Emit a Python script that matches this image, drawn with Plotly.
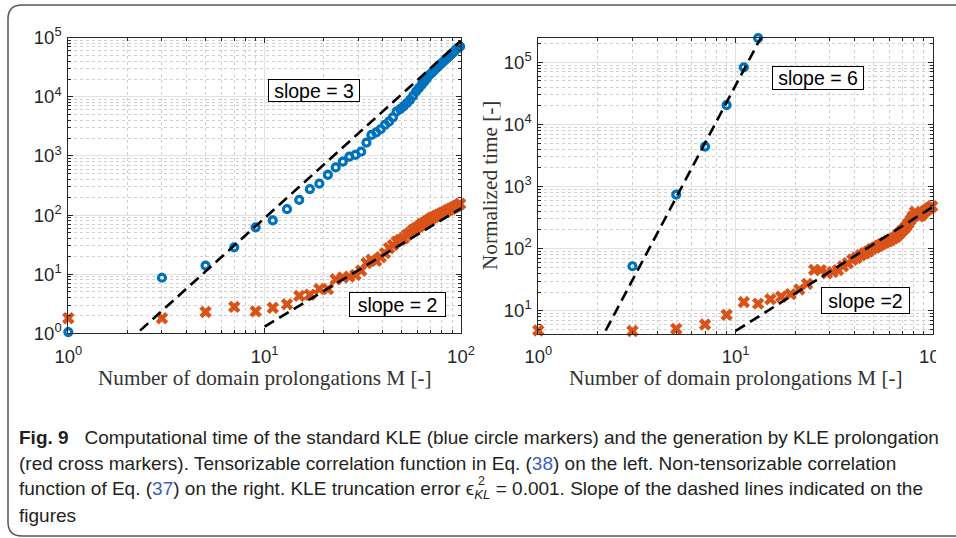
import plotly.graph_objects as go

W, H = 956, 538

# ---------------- data ----------------
# Left: tensorizable correlation function, odd numbers of prolongations M
m_left = list(range(1, 100, 2))
time_kle_left = [
    1.05, 8.7, 14, 28.5, 62, 81, 126, 180, 275, 340,
    480, 640, 800, 975, 1040, 1180, 1680, 2270, 2500, 2830,
    3350, 3800, 4500, 5650, 6200, 6900, 7800, 8900, 10400, 12300,
    14000, 15900, 18000, 20500, 23500, 25500, 28000, 30500, 33500, 36000,
    39000, 42000, 45000, 48500, 52000, 56000, 60000, 64000, 67500, 71000,
]
time_prol_left = [
    1.8, 1.8, 2.3, 2.8, 2.35, 2.7, 3.1, 4.3, 4.5, 5.6,
    5.6, 8.2, 8.8, 9.1, 9.7, 11.5, 15.4, 17.5, 16.8, 19.4,
    22.7, 27.5, 31, 35.5, 38, 40.5, 46, 50, 56, 60,
    64, 70, 74, 79, 84, 89, 93, 97, 101, 105,
    110, 114, 119, 124, 128, 133, 137, 142, 148, 155,
]

# Right: non-tensorizable correlation function
m_right_kle = [1, 3, 5, 7, 9, 11, 13]
time_kle_right = [4.2, 52, 740, 4400, 20500, 83000, 245000]
m_right_prol = list(range(1, 100, 2))
time_prol_right = [
    4.8, 4.7, 5.1, 6.0, 8.6, 13.8, 13.0, 15.3, 16.8, 18.5,
    22, 27, 45.5, 45, 40, 42, 45, 52, 58, 66,
    71, 78, 84, 90, 99, 104, 111, 118, 125, 131,
    138, 146, 155, 170, 188, 205, 225, 255, 290, 330,
    390, 350, 330, 340, 370, 400, 420, 440, 460, 480,
]

# Dashed guide lines: slope, coefficient c (y = c * M**slope), M from, M to
guide_left = [(3, 0.089, 2, 100), (2, 0.013, 10, 100)]
guide_right = [(6, 0.0427, 2, 13.5), (2, 0.0472, 10, 100)]

slope_labels_left = ["slope = 3", "slope = 2"]
slope_labels_right = ["slope = 6", "slope =2"]

x_tick_vals = [1, 10, 100]
x_tick_text = ["10<sup>0</sup>", "10<sup>1</sup>", "10<sup>2</sup>"]
y_tick_vals_left = [1, 10, 100, 1e3, 1e4, 1e5]
y_tick_text_left = ["10<sup>0</sup>", "10<sup>1</sup>", "10<sup>2</sup>",
                    "10<sup>3</sup>", "10<sup>4</sup>", "10<sup>5</sup>"]
y_tick_vals_right = [10, 100, 1e3, 1e4, 1e5]
y_tick_text_right = y_tick_text_left[1:]

x_title = "Number of domain prolongations M [-]"
y_title_right = "Normalized time [-]"

LINK = "#3a5fc4"
caption_lines = [
    "<b>Fig. 9</b>\u00a0\u00a0 Computational time of the standard KLE (blue circle markers) "
    "and the generation by KLE prolongation",
    "(red cross markers). Tensorizable correlation function in Eq. "
    f"(<span style='color:{LINK}'>38</span>) on the left. Non-tensorizable correlation",
    f"function of Eq. (<span style='color:{LINK}'>37</span>) on the right. "
    "KLE truncation error ϵ<sub><i>KL</i></sub> = 0.001. Slope of the dashed lines indicated on the",
    "figures",
]
eps_power = "2"

# ---------------- styling helpers ----------------
BLUE = "#0072BD"
RED = "#D95319"
AX = "#262626"
SANS = "Liberation Sans, Arial, Helvetica, sans-serif"
SERIF = "Liberation Serif, Times New Roman, serif"


def fx(p):
    return p / W


def fy(p):
    return 1 - p / H


minor_vals = [d * 10 ** e for e in range(0, 6) for d in range(2, 10)]


def log_axis(domain, rng, tickvals, ticktext, standoff):
    return dict(
        type="log", domain=domain, range=rng,
        tickmode="array", tickvals=tickvals, ticktext=ticktext,
        showline=True, linecolor=AX, linewidth=1, mirror="ticks",
        ticks="inside", ticklen=5, tickwidth=1, tickcolor=AX,
        ticklabelstandoff=standoff,
        showgrid=True, gridcolor="#e1e1e1", gridwidth=1, zeroline=False,
        tickfont=dict(family=SANS, size=18.5, color=AX),
        minor=dict(tickmode="array", tickvals=minor_vals, ticks="inside",
                   ticklen=3, tickwidth=1, tickcolor=AX,
                   showgrid=True, gridcolor="#cfcfcf", griddash="dot", gridwidth=1),
    )


fig = go.Figure()


def add_panel(xa, ya, m_kle, t_kle, m_prol, t_prol, guides):
    fig.add_trace(go.Scatter(
        x=m_prol, y=t_prol, mode="markers", xaxis=xa, yaxis=ya, cliponaxis=False,
        marker=dict(symbol="x", size=11, color=RED, line=dict(width=0)),
        showlegend=False))
    fig.add_trace(go.Scatter(
        x=m_kle, y=t_kle, mode="markers", xaxis=xa, yaxis=ya, cliponaxis=False,
        marker=dict(symbol="circle-open", size=7, color=BLUE, line=dict(width=3.2, color=BLUE)),
        showlegend=False))
    for slope, c, m0, m1 in guides:
        fig.add_trace(go.Scatter(
            x=[m0, m1], y=[c * m0 ** slope, c * m1 ** slope], mode="lines",
            xaxis=xa, yaxis=ya,
            line=dict(color="black", width=2.6, dash="11px,6px"),
            showlegend=False))


add_panel("x", "y", m_left, time_kle_left, m_left, time_prol_left, guide_left)
add_panel("x2", "y2", m_right_kle, time_kle_right, m_right_prol, time_prol_right, guide_right)

fig.update_layout(
    width=W, height=H, autosize=False,
    margin=dict(l=0, r=0, t=0, b=0),
    paper_bgcolor="white", plot_bgcolor="white",
    template="none",
    xaxis=log_axis([fx(68.3), fx(461)], [0, 2], x_tick_vals, x_tick_text, 6),
    yaxis=log_axis([fy(333.3), fy(37.7)], [0, 5], y_tick_vals_left, y_tick_text_left, 2),
    xaxis2=log_axis([fx(538.3), fx(933)], [0, 2], x_tick_vals, x_tick_text, 6),
    yaxis2=log_axis([fy(334), fy(37.7)], [0.625, 5.396], y_tick_vals_right, y_tick_text_right, 2),
)
fig.layout.yaxis.anchor = "x"
fig.layout.xaxis.anchor = "y"
fig.layout.yaxis2.anchor = "x2"
fig.layout.xaxis2.anchor = "y2"

annotations = []


def slope_box(text, cx, cy, w, h):
    annotations.append(dict(
        text=text, xref="paper", yref="paper", x=fx(cx), y=fy(cy),
        xanchor="center", yanchor="middle", showarrow=False,
        width=w, height=h, borderpad=0, bgcolor="white",
        bordercolor="black", borderwidth=1,
        font=dict(family=SANS, size=19.5, color="black")))


slope_box(slope_labels_left[0], 313.8, 90.8, 90, 21)
slope_box(slope_labels_left[1], 397.7, 304.3, 95, 23)
slope_box(slope_labels_right[0], 817.5, 77.7, 90, 22)
slope_box(slope_labels_right[1], 865.8, 300.5, 87, 25)

for cx in (264.6, 735.6):
    annotations.append(dict(
        text=x_title, xref="paper", yref="paper", x=fx(cx), y=fy(378),
        xanchor="center", yanchor="middle", showarrow=False,
        font=dict(family=SERIF, size=21.2, color="#333333")))
annotations.append(dict(
    text=y_title_right, xref="paper", yref="paper", x=fx(490), y=fy(186),
    xanchor="center", yanchor="middle", showarrow=False, textangle=-90,
    font=dict(family=SERIF, size=21.2, color="#333333")))

for i, line in enumerate(caption_lines):
    annotations.append(dict(
        text=line, xref="paper", yref="paper", x=fx(17), y=fy(437 + 26.3 * i),
        xanchor="left", yanchor="middle", showarrow=False, align="left",
        font=dict(family=SANS, size=19, color="#231f20")))
# superscript of the truncation-error symbol, stacked over its subscript
annotations.append(dict(
    text=eps_power, xref="paper", yref="paper", x=fx(475.5), y=fy(481),
    xanchor="left", yanchor="middle", showarrow=False,
    font=dict(family=SANS, size=12.5, color="#231f20")))

fig.update_layout(annotations=annotations)

# outer rounded frame around figure and caption
frame = (f"M {fx(975)},{fy(5)} L {fx(22)},{fy(5)} Q {fx(8)},{fy(5)} {fx(8)},{fy(19)} "
         f"L {fx(8)},{fy(522)} Q {fx(8)},{fy(536)} {fx(22)},{fy(536)} L {fx(975)},{fy(536)}")
fig.add_shape(type="path", path=frame, xref="paper", yref="paper",
              line=dict(color="#555555", width=1.5), layer="above")
# the right panel image ends at this edge
fig.add_shape(type="rect", xref="paper", yref="paper",
              x0=fx(936), x1=fx(960), y0=fy(372), y1=fy(338),
              fillcolor="white", line=dict(width=0), layer="above")

fig.write_html("out.html")
